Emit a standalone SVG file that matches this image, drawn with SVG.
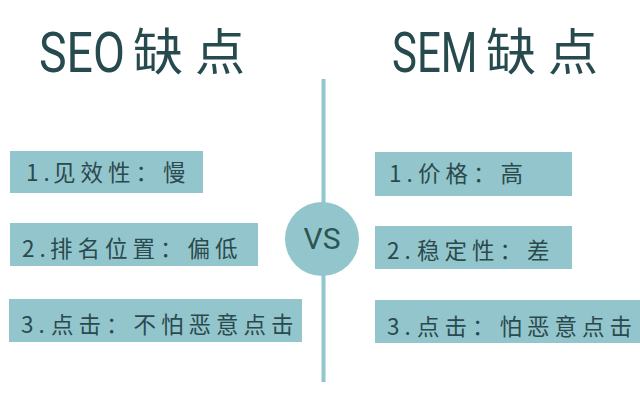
<svg xmlns="http://www.w3.org/2000/svg" width="640" height="400" viewBox="0 0 640 400">
<style>
.bg{fill:#ffffff}
.box{fill:#93c6cc}
.title{fill:#264a4d;font-family:Roboto,"Liberation Sans",sans-serif;font-size:56px}
.titlecn{fill:#264a4d;font-family:"Noto Sans CJK SC",sans-serif;font-size:50px;letter-spacing:12px}
.item{fill:#2b4a4d;font-family:"Noto Sans CJK SC",sans-serif;font-size:22.5px;letter-spacing:5px}
.vs{fill:#2b5552;font-family:Roboto,"Liberation Sans",sans-serif;font-size:30px}
</style>
<rect class="bg" x="0" y="0" width="640" height="400"/>
<g id="title-seo">
<text class="title" transform="translate(39,72) scale(0.83,1)">SEO</text>
<text class="titlecn" x="133" y="70">缺点</text>
</g>
<g id="title-sem">
<text class="title" transform="translate(392,72) scale(0.75,1)">SEM</text>
<text class="titlecn" x="486" y="70">缺点</text>
</g>
<g id="connectors">
<line x1="323.5" y1="79" x2="323.5" y2="382" stroke="#93c6cc" stroke-width="4"/>
</g>
<g id="vs">
<circle cx="322" cy="239" r="37" fill="#93c6cc"/>
<text class="vs" x="322" y="249" text-anchor="middle">VS</text>
</g>
<g id="seo-1">
<rect class="box" x="10" y="151" width="193" height="42"/>
<text class="item" y="181"><tspan x="26">1.</tspan><tspan x="53">见效性：慢</tspan></text>
</g>
<g id="seo-2">
<rect class="box" x="10" y="223" width="248" height="43"/>
<text class="item" y="257"><tspan x="22">2.</tspan><tspan x="50">排名位置：偏低</tspan></text>
</g>
<g id="seo-3">
<rect class="box" x="9" y="299" width="293" height="43"/>
<text class="item" y="333"><tspan x="21">3.</tspan><tspan x="51">点击：不怕恶意点击</tspan></text>
</g>
<g id="sem-1">
<rect class="box" x="375" y="152" width="197" height="44"/>
<text class="item" y="182"><tspan x="389">1.</tspan><tspan x="418">价格：高</tspan></text>
</g>
<g id="sem-2">
<rect class="box" x="375" y="226" width="197" height="43"/>
<text class="item" y="259"><tspan x="387">2.</tspan><tspan x="417">稳定性：差</tspan></text>
</g>
<g id="sem-3">
<rect class="box" x="375" y="300" width="265" height="43"/>
<text class="item" y="335"><tspan x="387">3.</tspan><tspan x="417">点击：怕恶意点击</tspan></text>
</g>
</svg>
